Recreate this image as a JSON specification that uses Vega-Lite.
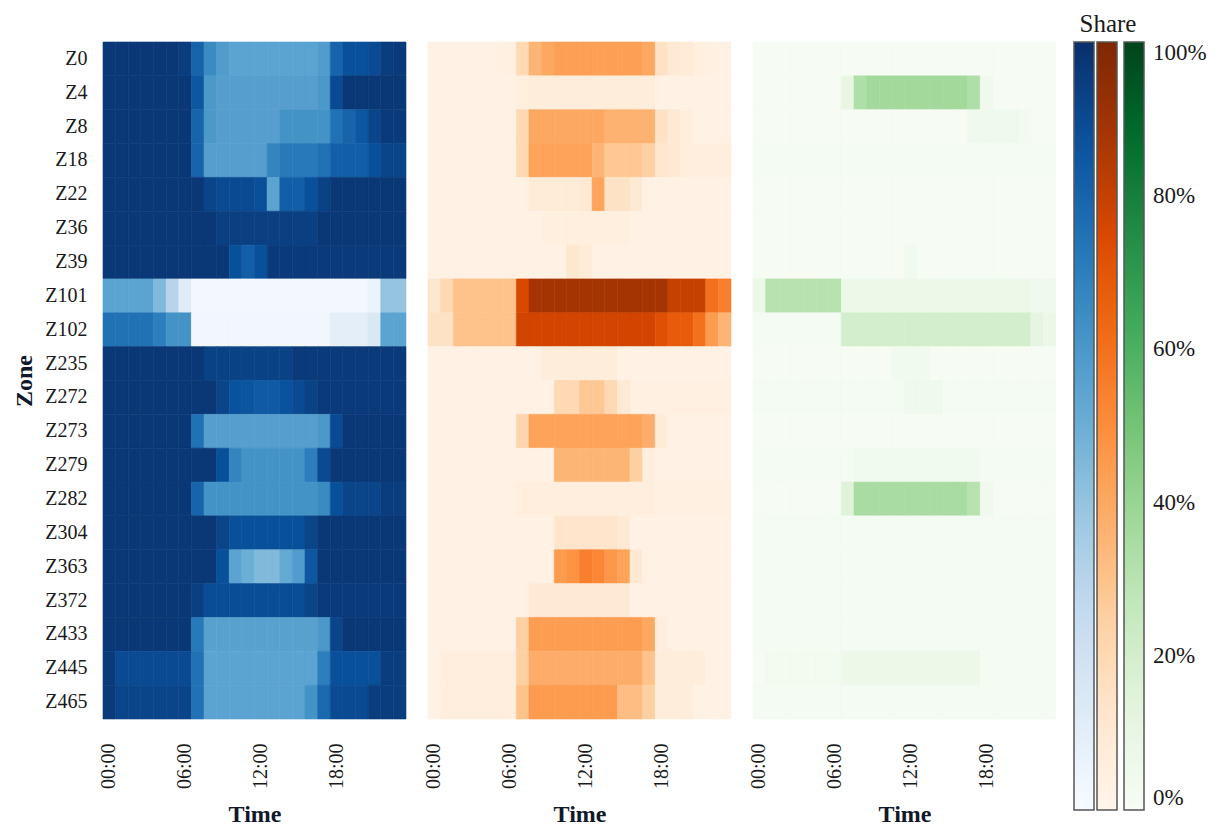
{
"$schema":"https://vega.github.io/schema/vega-lite/v6.json",
"background":"white",
"padding":{"left":12,"top":12,"right":5,"bottom":2},
"config":{"font":"Liberation Serif","view":{"stroke":null},
"axis":{"labelFont":"Liberation Serif","titleFont":"Liberation Serif","labelColor":"#1a1a1a","titleColor":"#10182b","domain":false,"ticks":false,"tickSize":0,"labelFontSize":20,"titleFontSize":24,"titleFontWeight":"bold"},
"legend":{"labelFont":"Liberation Serif","titleFont":"Liberation Serif"}},
"data":{"values":[
{"z":"Z0","h":0,"b":0.97,"o":0.03,"g":0.01},{"z":"Z0","h":1,"b":0.97,"o":0.03,"g":0.01},{"z":"Z0","h":2,"b":0.97,"o":0.03,"g":0.01},{"z":"Z0","h":3,"b":0.97,"o":0.03,"g":0.01},{"z":"Z0","h":4,"b":0.97,"o":0.03,"g":0.01},{"z":"Z0","h":5,"b":0.97,"o":0.03,"g":0.01},{"z":"Z0","h":6,"b":0.95,"o":0.04,"g":0.01},{"z":"Z0","h":7,"b":0.8,"o":0.2,"g":0.01},{"z":"Z0","h":8,"b":0.65,"o":0.35,"g":0.01},{"z":"Z0","h":9,"b":0.58,"o":0.4,"g":0.01},{"z":"Z0","h":10,"b":0.55,"o":0.43,"g":0.01},{"z":"Z0","h":11,"b":0.55,"o":0.43,"g":0.01},{"z":"Z0","h":12,"b":0.55,"o":0.43,"g":0.01},{"z":"Z0","h":13,"b":0.55,"o":0.43,"g":0.01},{"z":"Z0","h":14,"b":0.55,"o":0.43,"g":0.01},{"z":"Z0","h":15,"b":0.55,"o":0.43,"g":0.01},{"z":"Z0","h":16,"b":0.55,"o":0.43,"g":0.01},{"z":"Z0","h":17,"b":0.58,"o":0.4,"g":0.01},{"z":"Z0","h":18,"b":0.8,"o":0.15,"g":0.01},{"z":"Z0","h":19,"b":0.88,"o":0.1,"g":0.01},{"z":"Z0","h":20,"b":0.88,"o":0.08,"g":0.01},{"z":"Z0","h":21,"b":0.9,"o":0.05,"g":0.01},{"z":"Z0","h":22,"b":0.95,"o":0.04,"g":0.01},{"z":"Z0","h":23,"b":0.96,"o":0.03,"g":0.01},
{"z":"Z4","h":0,"b":0.97,"o":0.03,"g":0.01},{"z":"Z4","h":1,"b":0.97,"o":0.03,"g":0.01},{"z":"Z4","h":2,"b":0.97,"o":0.03,"g":0.01},{"z":"Z4","h":3,"b":0.97,"o":0.03,"g":0.01},{"z":"Z4","h":4,"b":0.97,"o":0.03,"g":0.01},{"z":"Z4","h":5,"b":0.97,"o":0.03,"g":0.01},{"z":"Z4","h":6,"b":0.97,"o":0.03,"g":0.01},{"z":"Z4","h":7,"b":0.85,"o":0.05,"g":0.1},{"z":"Z4","h":8,"b":0.6,"o":0.07,"g":0.33},{"z":"Z4","h":9,"b":0.57,"o":0.07,"g":0.37},{"z":"Z4","h":10,"b":0.57,"o":0.07,"g":0.37},{"z":"Z4","h":11,"b":0.57,"o":0.07,"g":0.37},{"z":"Z4","h":12,"b":0.57,"o":0.07,"g":0.37},{"z":"Z4","h":13,"b":0.57,"o":0.07,"g":0.37},{"z":"Z4","h":14,"b":0.57,"o":0.07,"g":0.37},{"z":"Z4","h":15,"b":0.57,"o":0.07,"g":0.37},{"z":"Z4","h":16,"b":0.57,"o":0.07,"g":0.37},{"z":"Z4","h":17,"b":0.6,"o":0.07,"g":0.33},{"z":"Z4","h":18,"b":0.9,"o":0.03,"g":0.05},{"z":"Z4","h":19,"b":0.97,"o":0.03,"g":0.01},{"z":"Z4","h":20,"b":0.97,"o":0.03,"g":0.01},{"z":"Z4","h":21,"b":0.97,"o":0.03,"g":0.01},{"z":"Z4","h":22,"b":0.97,"o":0.03,"g":0.01},{"z":"Z4","h":23,"b":0.97,"o":0.03,"g":0.01},
{"z":"Z8","h":0,"b":0.97,"o":0.03,"g":0.01},{"z":"Z8","h":1,"b":0.97,"o":0.03,"g":0.01},{"z":"Z8","h":2,"b":0.97,"o":0.03,"g":0.01},{"z":"Z8","h":3,"b":0.97,"o":0.03,"g":0.01},{"z":"Z8","h":4,"b":0.97,"o":0.03,"g":0.01},{"z":"Z8","h":5,"b":0.97,"o":0.03,"g":0.01},{"z":"Z8","h":6,"b":0.97,"o":0.03,"g":0.01},{"z":"Z8","h":7,"b":0.8,"o":0.2,"g":0.01},{"z":"Z8","h":8,"b":0.6,"o":0.4,"g":0.01},{"z":"Z8","h":9,"b":0.57,"o":0.4,"g":0.01},{"z":"Z8","h":10,"b":0.57,"o":0.4,"g":0.01},{"z":"Z8","h":11,"b":0.57,"o":0.4,"g":0.01},{"z":"Z8","h":12,"b":0.57,"o":0.4,"g":0.01},{"z":"Z8","h":13,"b":0.57,"o":0.4,"g":0.01},{"z":"Z8","h":14,"b":0.62,"o":0.36,"g":0.01},{"z":"Z8","h":15,"b":0.62,"o":0.36,"g":0.01},{"z":"Z8","h":16,"b":0.62,"o":0.36,"g":0.01},{"z":"Z8","h":17,"b":0.62,"o":0.36,"g":0.05},{"z":"Z8","h":18,"b":0.75,"o":0.15,"g":0.05},{"z":"Z8","h":19,"b":0.8,"o":0.1,"g":0.05},{"z":"Z8","h":20,"b":0.85,"o":0.06,"g":0.05},{"z":"Z8","h":21,"b":0.92,"o":0.03,"g":0.03},{"z":"Z8","h":22,"b":0.96,"o":0.03,"g":0.01},{"z":"Z8","h":23,"b":0.96,"o":0.03,"g":0.01},
{"z":"Z18","h":0,"b":0.97,"o":0.03,"g":0.02},{"z":"Z18","h":1,"b":0.97,"o":0.03,"g":0.02},{"z":"Z18","h":2,"b":0.97,"o":0.03,"g":0.02},{"z":"Z18","h":3,"b":0.97,"o":0.03,"g":0.02},{"z":"Z18","h":4,"b":0.97,"o":0.03,"g":0.02},{"z":"Z18","h":5,"b":0.97,"o":0.03,"g":0.02},{"z":"Z18","h":6,"b":0.97,"o":0.03,"g":0.02},{"z":"Z18","h":7,"b":0.8,"o":0.2,"g":0.02},{"z":"Z18","h":8,"b":0.57,"o":0.42,"g":0.02},{"z":"Z18","h":9,"b":0.57,"o":0.42,"g":0.02},{"z":"Z18","h":10,"b":0.57,"o":0.42,"g":0.02},{"z":"Z18","h":11,"b":0.57,"o":0.42,"g":0.02},{"z":"Z18","h":12,"b":0.57,"o":0.42,"g":0.02},{"z":"Z18","h":13,"b":0.68,"o":0.35,"g":0.02},{"z":"Z18","h":14,"b":0.72,"o":0.28,"g":0.02},{"z":"Z18","h":15,"b":0.72,"o":0.28,"g":0.02},{"z":"Z18","h":16,"b":0.72,"o":0.28,"g":0.02},{"z":"Z18","h":17,"b":0.75,"o":0.25,"g":0.02},{"z":"Z18","h":18,"b":0.82,"o":0.12,"g":0.02},{"z":"Z18","h":19,"b":0.82,"o":0.1,"g":0.02},{"z":"Z18","h":20,"b":0.82,"o":0.06,"g":0.02},{"z":"Z18","h":21,"b":0.88,"o":0.06,"g":0.02},{"z":"Z18","h":22,"b":0.92,"o":0.06,"g":0.02},{"z":"Z18","h":23,"b":0.92,"o":0.06,"g":0.02},
{"z":"Z22","h":0,"b":0.97,"o":0.03,"g":0.01},{"z":"Z22","h":1,"b":0.97,"o":0.03,"g":0.01},{"z":"Z22","h":2,"b":0.97,"o":0.03,"g":0.01},{"z":"Z22","h":3,"b":0.97,"o":0.03,"g":0.01},{"z":"Z22","h":4,"b":0.97,"o":0.03,"g":0.01},{"z":"Z22","h":5,"b":0.97,"o":0.03,"g":0.01},{"z":"Z22","h":6,"b":0.97,"o":0.03,"g":0.01},{"z":"Z22","h":7,"b":0.97,"o":0.03,"g":0.01},{"z":"Z22","h":8,"b":0.92,"o":0.08,"g":0.01},{"z":"Z22","h":9,"b":0.9,"o":0.08,"g":0.01},{"z":"Z22","h":10,"b":0.9,"o":0.08,"g":0.01},{"z":"Z22","h":11,"b":0.9,"o":0.08,"g":0.01},{"z":"Z22","h":12,"b":0.88,"o":0.1,"g":0.01},{"z":"Z22","h":13,"b":0.55,"o":0.42,"g":0.01},{"z":"Z22","h":14,"b":0.82,"o":0.15,"g":0.01},{"z":"Z22","h":15,"b":0.82,"o":0.15,"g":0.01},{"z":"Z22","h":16,"b":0.88,"o":0.1,"g":0.01},{"z":"Z22","h":17,"b":0.93,"o":0.03,"g":0.01},{"z":"Z22","h":18,"b":0.97,"o":0.03,"g":0.01},{"z":"Z22","h":19,"b":0.97,"o":0.03,"g":0.01},{"z":"Z22","h":20,"b":0.97,"o":0.03,"g":0.01},{"z":"Z22","h":21,"b":0.97,"o":0.03,"g":0.01},{"z":"Z22","h":22,"b":0.97,"o":0.03,"g":0.01},{"z":"Z22","h":23,"b":0.97,"o":0.03,"g":0.01},
{"z":"Z36","h":0,"b":0.97,"o":0.03,"g":0.01},{"z":"Z36","h":1,"b":0.97,"o":0.03,"g":0.01},{"z":"Z36","h":2,"b":0.97,"o":0.03,"g":0.01},{"z":"Z36","h":3,"b":0.97,"o":0.03,"g":0.01},{"z":"Z36","h":4,"b":0.97,"o":0.03,"g":0.01},{"z":"Z36","h":5,"b":0.97,"o":0.03,"g":0.01},{"z":"Z36","h":6,"b":0.97,"o":0.03,"g":0.01},{"z":"Z36","h":7,"b":0.97,"o":0.03,"g":0.01},{"z":"Z36","h":8,"b":0.97,"o":0.03,"g":0.01},{"z":"Z36","h":9,"b":0.94,"o":0.05,"g":0.01},{"z":"Z36","h":10,"b":0.94,"o":0.05,"g":0.01},{"z":"Z36","h":11,"b":0.94,"o":0.05,"g":0.01},{"z":"Z36","h":12,"b":0.94,"o":0.05,"g":0.01},{"z":"Z36","h":13,"b":0.94,"o":0.05,"g":0.01},{"z":"Z36","h":14,"b":0.94,"o":0.05,"g":0.01},{"z":"Z36","h":15,"b":0.94,"o":0.05,"g":0.01},{"z":"Z36","h":16,"b":0.94,"o":0.03,"g":0.01},{"z":"Z36","h":17,"b":0.97,"o":0.03,"g":0.01},{"z":"Z36","h":18,"b":0.97,"o":0.03,"g":0.01},{"z":"Z36","h":19,"b":0.97,"o":0.03,"g":0.01},{"z":"Z36","h":20,"b":0.97,"o":0.03,"g":0.01},{"z":"Z36","h":21,"b":0.97,"o":0.03,"g":0.01},{"z":"Z36","h":22,"b":0.97,"o":0.03,"g":0.01},{"z":"Z36","h":23,"b":0.97,"o":0.03,"g":0.01},
{"z":"Z39","h":0,"b":0.97,"o":0.03,"g":0.01},{"z":"Z39","h":1,"b":0.97,"o":0.03,"g":0.01},{"z":"Z39","h":2,"b":0.97,"o":0.03,"g":0.01},{"z":"Z39","h":3,"b":0.97,"o":0.03,"g":0.01},{"z":"Z39","h":4,"b":0.97,"o":0.03,"g":0.01},{"z":"Z39","h":5,"b":0.97,"o":0.03,"g":0.01},{"z":"Z39","h":6,"b":0.97,"o":0.03,"g":0.01},{"z":"Z39","h":7,"b":0.97,"o":0.03,"g":0.01},{"z":"Z39","h":8,"b":0.97,"o":0.03,"g":0.01},{"z":"Z39","h":9,"b":0.97,"o":0.03,"g":0.01},{"z":"Z39","h":10,"b":0.88,"o":0.03,"g":0.01},{"z":"Z39","h":11,"b":0.82,"o":0.12,"g":0.01},{"z":"Z39","h":12,"b":0.88,"o":0.08,"g":0.04},{"z":"Z39","h":13,"b":0.96,"o":0.03,"g":0.01},{"z":"Z39","h":14,"b":0.96,"o":0.03,"g":0.01},{"z":"Z39","h":15,"b":0.96,"o":0.03,"g":0.01},{"z":"Z39","h":16,"b":0.96,"o":0.03,"g":0.01},{"z":"Z39","h":17,"b":0.96,"o":0.03,"g":0.01},{"z":"Z39","h":18,"b":0.96,"o":0.03,"g":0.01},{"z":"Z39","h":19,"b":0.96,"o":0.03,"g":0.01},{"z":"Z39","h":20,"b":0.96,"o":0.03,"g":0.01},{"z":"Z39","h":21,"b":0.96,"o":0.03,"g":0.01},{"z":"Z39","h":22,"b":0.96,"o":0.03,"g":0.01},{"z":"Z39","h":23,"b":0.96,"o":0.03,"g":0.01},
{"z":"Z101","h":0,"b":0.55,"o":0.12,"g":0.08},{"z":"Z101","h":1,"b":0.55,"o":0.2,"g":0.3},{"z":"Z101","h":2,"b":0.55,"o":0.3,"g":0.3},{"z":"Z101","h":3,"b":0.55,"o":0.3,"g":0.3},{"z":"Z101","h":4,"b":0.45,"o":0.3,"g":0.3},{"z":"Z101","h":5,"b":0.3,"o":0.3,"g":0.3},{"z":"Z101","h":6,"b":0.12,"o":0.3,"g":0.3},{"z":"Z101","h":7,"b":0.02,"o":0.75,"g":0.07},{"z":"Z101","h":8,"b":0.02,"o":0.88,"g":0.07},{"z":"Z101","h":9,"b":0.02,"o":0.88,"g":0.07},{"z":"Z101","h":10,"b":0.02,"o":0.88,"g":0.07},{"z":"Z101","h":11,"b":0.02,"o":0.88,"g":0.07},{"z":"Z101","h":12,"b":0.02,"o":0.88,"g":0.07},{"z":"Z101","h":13,"b":0.02,"o":0.88,"g":0.07},{"z":"Z101","h":14,"b":0.02,"o":0.88,"g":0.07},{"z":"Z101","h":15,"b":0.02,"o":0.88,"g":0.07},{"z":"Z101","h":16,"b":0.02,"o":0.88,"g":0.07},{"z":"Z101","h":17,"b":0.02,"o":0.88,"g":0.07},{"z":"Z101","h":18,"b":0.02,"o":0.88,"g":0.07},{"z":"Z101","h":19,"b":0.02,"o":0.8,"g":0.07},{"z":"Z101","h":20,"b":0.02,"o":0.8,"g":0.07},{"z":"Z101","h":21,"b":0.06,"o":0.8,"g":0.07},{"z":"Z101","h":22,"b":0.4,"o":0.6,"g":0.05},{"z":"Z101","h":23,"b":0.4,"o":0.55,"g":0.05},
{"z":"Z102","h":0,"b":0.75,"o":0.15,"g":0.02},{"z":"Z102","h":1,"b":0.75,"o":0.15,"g":0.02},{"z":"Z102","h":2,"b":0.75,"o":0.3,"g":0.02},{"z":"Z102","h":3,"b":0.75,"o":0.3,"g":0.02},{"z":"Z102","h":4,"b":0.7,"o":0.3,"g":0.02},{"z":"Z102","h":5,"b":0.62,"o":0.3,"g":0.02},{"z":"Z102","h":6,"b":0.62,"o":0.3,"g":0.02},{"z":"Z102","h":7,"b":0.03,"o":0.77,"g":0.2},{"z":"Z102","h":8,"b":0.03,"o":0.77,"g":0.2},{"z":"Z102","h":9,"b":0.03,"o":0.77,"g":0.2},{"z":"Z102","h":10,"b":0.03,"o":0.77,"g":0.2},{"z":"Z102","h":11,"b":0.03,"o":0.77,"g":0.2},{"z":"Z102","h":12,"b":0.03,"o":0.77,"g":0.2},{"z":"Z102","h":13,"b":0.03,"o":0.77,"g":0.2},{"z":"Z102","h":14,"b":0.03,"o":0.77,"g":0.2},{"z":"Z102","h":15,"b":0.03,"o":0.77,"g":0.2},{"z":"Z102","h":16,"b":0.03,"o":0.77,"g":0.2},{"z":"Z102","h":17,"b":0.03,"o":0.77,"g":0.2},{"z":"Z102","h":18,"b":0.1,"o":0.72,"g":0.2},{"z":"Z102","h":19,"b":0.1,"o":0.68,"g":0.2},{"z":"Z102","h":20,"b":0.1,"o":0.68,"g":0.2},{"z":"Z102","h":21,"b":0.15,"o":0.6,"g":0.2},{"z":"Z102","h":22,"b":0.55,"o":0.45,"g":0.12},{"z":"Z102","h":23,"b":0.55,"o":0.35,"g":0.08},
{"z":"Z235","h":0,"b":0.97,"o":0.03,"g":0.01},{"z":"Z235","h":1,"b":0.97,"o":0.03,"g":0.01},{"z":"Z235","h":2,"b":0.97,"o":0.03,"g":0.01},{"z":"Z235","h":3,"b":0.97,"o":0.03,"g":0.01},{"z":"Z235","h":4,"b":0.97,"o":0.03,"g":0.01},{"z":"Z235","h":5,"b":0.97,"o":0.03,"g":0.01},{"z":"Z235","h":6,"b":0.97,"o":0.03,"g":0.01},{"z":"Z235","h":7,"b":0.97,"o":0.03,"g":0.01},{"z":"Z235","h":8,"b":0.93,"o":0.03,"g":0.01},{"z":"Z235","h":9,"b":0.93,"o":0.07,"g":0.01},{"z":"Z235","h":10,"b":0.93,"o":0.07,"g":0.01},{"z":"Z235","h":11,"b":0.93,"o":0.07,"g":0.04},{"z":"Z235","h":12,"b":0.93,"o":0.07,"g":0.04},{"z":"Z235","h":13,"b":0.93,"o":0.07,"g":0.04},{"z":"Z235","h":14,"b":0.93,"o":0.07,"g":0.01},{"z":"Z235","h":15,"b":0.96,"o":0.03,"g":0.01},{"z":"Z235","h":16,"b":0.96,"o":0.03,"g":0.01},{"z":"Z235","h":17,"b":0.96,"o":0.03,"g":0.01},{"z":"Z235","h":18,"b":0.96,"o":0.03,"g":0.01},{"z":"Z235","h":19,"b":0.96,"o":0.03,"g":0.01},{"z":"Z235","h":20,"b":0.96,"o":0.03,"g":0.01},{"z":"Z235","h":21,"b":0.96,"o":0.03,"g":0.01},{"z":"Z235","h":22,"b":0.96,"o":0.03,"g":0.01},{"z":"Z235","h":23,"b":0.96,"o":0.03,"g":0.01},
{"z":"Z272","h":0,"b":0.97,"o":0.03,"g":0.02},{"z":"Z272","h":1,"b":0.97,"o":0.03,"g":0.02},{"z":"Z272","h":2,"b":0.97,"o":0.03,"g":0.02},{"z":"Z272","h":3,"b":0.97,"o":0.03,"g":0.02},{"z":"Z272","h":4,"b":0.97,"o":0.03,"g":0.02},{"z":"Z272","h":5,"b":0.97,"o":0.03,"g":0.02},{"z":"Z272","h":6,"b":0.97,"o":0.03,"g":0.02},{"z":"Z272","h":7,"b":0.97,"o":0.03,"g":0.02},{"z":"Z272","h":8,"b":0.97,"o":0.03,"g":0.02},{"z":"Z272","h":9,"b":0.92,"o":0.03,"g":0.02},{"z":"Z272","h":10,"b":0.87,"o":0.2,"g":0.02},{"z":"Z272","h":11,"b":0.86,"o":0.2,"g":0.02},{"z":"Z272","h":12,"b":0.84,"o":0.28,"g":0.05},{"z":"Z272","h":13,"b":0.84,"o":0.28,"g":0.05},{"z":"Z272","h":14,"b":0.87,"o":0.2,"g":0.05},{"z":"Z272","h":15,"b":0.9,"o":0.1,"g":0.02},{"z":"Z272","h":16,"b":0.93,"o":0.04,"g":0.02},{"z":"Z272","h":17,"b":0.96,"o":0.04,"g":0.02},{"z":"Z272","h":18,"b":0.96,"o":0.04,"g":0.02},{"z":"Z272","h":19,"b":0.96,"o":0.04,"g":0.02},{"z":"Z272","h":20,"b":0.96,"o":0.04,"g":0.02},{"z":"Z272","h":21,"b":0.96,"o":0.04,"g":0.02},{"z":"Z272","h":22,"b":0.96,"o":0.04,"g":0.02},{"z":"Z272","h":23,"b":0.96,"o":0.04,"g":0.02},
{"z":"Z273","h":0,"b":0.97,"o":0.03,"g":0.01},{"z":"Z273","h":1,"b":0.97,"o":0.03,"g":0.01},{"z":"Z273","h":2,"b":0.97,"o":0.03,"g":0.01},{"z":"Z273","h":3,"b":0.97,"o":0.03,"g":0.01},{"z":"Z273","h":4,"b":0.97,"o":0.03,"g":0.01},{"z":"Z273","h":5,"b":0.97,"o":0.03,"g":0.01},{"z":"Z273","h":6,"b":0.97,"o":0.03,"g":0.01},{"z":"Z273","h":7,"b":0.75,"o":0.22,"g":0.01},{"z":"Z273","h":8,"b":0.57,"o":0.42,"g":0.01},{"z":"Z273","h":9,"b":0.57,"o":0.42,"g":0.01},{"z":"Z273","h":10,"b":0.57,"o":0.42,"g":0.01},{"z":"Z273","h":11,"b":0.57,"o":0.42,"g":0.01},{"z":"Z273","h":12,"b":0.57,"o":0.42,"g":0.01},{"z":"Z273","h":13,"b":0.57,"o":0.42,"g":0.01},{"z":"Z273","h":14,"b":0.57,"o":0.42,"g":0.01},{"z":"Z273","h":15,"b":0.57,"o":0.42,"g":0.01},{"z":"Z273","h":16,"b":0.57,"o":0.42,"g":0.01},{"z":"Z273","h":17,"b":0.6,"o":0.38,"g":0.01},{"z":"Z273","h":18,"b":0.9,"o":0.08,"g":0.01},{"z":"Z273","h":19,"b":0.97,"o":0.03,"g":0.01},{"z":"Z273","h":20,"b":0.97,"o":0.03,"g":0.01},{"z":"Z273","h":21,"b":0.97,"o":0.03,"g":0.01},{"z":"Z273","h":22,"b":0.97,"o":0.03,"g":0.01},{"z":"Z273","h":23,"b":0.97,"o":0.03,"g":0.01},
{"z":"Z279","h":0,"b":0.97,"o":0.03,"g":0.02},{"z":"Z279","h":1,"b":0.97,"o":0.03,"g":0.02},{"z":"Z279","h":2,"b":0.97,"o":0.03,"g":0.02},{"z":"Z279","h":3,"b":0.97,"o":0.03,"g":0.02},{"z":"Z279","h":4,"b":0.97,"o":0.03,"g":0.02},{"z":"Z279","h":5,"b":0.97,"o":0.03,"g":0.02},{"z":"Z279","h":6,"b":0.97,"o":0.03,"g":0.02},{"z":"Z279","h":7,"b":0.97,"o":0.03,"g":0.02},{"z":"Z279","h":8,"b":0.97,"o":0.03,"g":0.04},{"z":"Z279","h":9,"b":0.88,"o":0.03,"g":0.04},{"z":"Z279","h":10,"b":0.68,"o":0.35,"g":0.04},{"z":"Z279","h":11,"b":0.62,"o":0.35,"g":0.04},{"z":"Z279","h":12,"b":0.62,"o":0.35,"g":0.04},{"z":"Z279","h":13,"b":0.62,"o":0.35,"g":0.04},{"z":"Z279","h":14,"b":0.62,"o":0.35,"g":0.04},{"z":"Z279","h":15,"b":0.62,"o":0.35,"g":0.04},{"z":"Z279","h":16,"b":0.7,"o":0.25,"g":0.04},{"z":"Z279","h":17,"b":0.9,"o":0.06,"g":0.04},{"z":"Z279","h":18,"b":0.97,"o":0.03,"g":0.02},{"z":"Z279","h":19,"b":0.97,"o":0.03,"g":0.02},{"z":"Z279","h":20,"b":0.97,"o":0.03,"g":0.02},{"z":"Z279","h":21,"b":0.97,"o":0.03,"g":0.02},{"z":"Z279","h":22,"b":0.97,"o":0.03,"g":0.02},{"z":"Z279","h":23,"b":0.97,"o":0.03,"g":0.02},
{"z":"Z282","h":0,"b":0.97,"o":0.03,"g":0.01},{"z":"Z282","h":1,"b":0.97,"o":0.03,"g":0.01},{"z":"Z282","h":2,"b":0.97,"o":0.03,"g":0.01},{"z":"Z282","h":3,"b":0.97,"o":0.03,"g":0.01},{"z":"Z282","h":4,"b":0.97,"o":0.03,"g":0.01},{"z":"Z282","h":5,"b":0.97,"o":0.03,"g":0.01},{"z":"Z282","h":6,"b":0.97,"o":0.03,"g":0.01},{"z":"Z282","h":7,"b":0.8,"o":0.06,"g":0.15},{"z":"Z282","h":8,"b":0.62,"o":0.06,"g":0.35},{"z":"Z282","h":9,"b":0.62,"o":0.06,"g":0.35},{"z":"Z282","h":10,"b":0.62,"o":0.06,"g":0.35},{"z":"Z282","h":11,"b":0.62,"o":0.06,"g":0.35},{"z":"Z282","h":12,"b":0.62,"o":0.06,"g":0.35},{"z":"Z282","h":13,"b":0.62,"o":0.06,"g":0.35},{"z":"Z282","h":14,"b":0.62,"o":0.06,"g":0.35},{"z":"Z282","h":15,"b":0.62,"o":0.06,"g":0.35},{"z":"Z282","h":16,"b":0.62,"o":0.06,"g":0.35},{"z":"Z282","h":17,"b":0.65,"o":0.06,"g":0.3},{"z":"Z282","h":18,"b":0.88,"o":0.04,"g":0.05},{"z":"Z282","h":19,"b":0.92,"o":0.04,"g":0.01},{"z":"Z282","h":20,"b":0.92,"o":0.04,"g":0.01},{"z":"Z282","h":21,"b":0.92,"o":0.04,"g":0.01},{"z":"Z282","h":22,"b":0.95,"o":0.04,"g":0.01},{"z":"Z282","h":23,"b":0.95,"o":0.04,"g":0.01},
{"z":"Z304","h":0,"b":0.97,"o":0.03,"g":0.02},{"z":"Z304","h":1,"b":0.97,"o":0.03,"g":0.02},{"z":"Z304","h":2,"b":0.97,"o":0.03,"g":0.02},{"z":"Z304","h":3,"b":0.97,"o":0.03,"g":0.02},{"z":"Z304","h":4,"b":0.97,"o":0.03,"g":0.02},{"z":"Z304","h":5,"b":0.97,"o":0.03,"g":0.02},{"z":"Z304","h":6,"b":0.97,"o":0.03,"g":0.02},{"z":"Z304","h":7,"b":0.97,"o":0.03,"g":0.02},{"z":"Z304","h":8,"b":0.97,"o":0.03,"g":0.02},{"z":"Z304","h":9,"b":0.92,"o":0.03,"g":0.02},{"z":"Z304","h":10,"b":0.88,"o":0.13,"g":0.02},{"z":"Z304","h":11,"b":0.88,"o":0.13,"g":0.02},{"z":"Z304","h":12,"b":0.88,"o":0.13,"g":0.02},{"z":"Z304","h":13,"b":0.88,"o":0.13,"g":0.02},{"z":"Z304","h":14,"b":0.88,"o":0.13,"g":0.02},{"z":"Z304","h":15,"b":0.88,"o":0.1,"g":0.02},{"z":"Z304","h":16,"b":0.92,"o":0.03,"g":0.02},{"z":"Z304","h":17,"b":0.97,"o":0.03,"g":0.02},{"z":"Z304","h":18,"b":0.97,"o":0.03,"g":0.02},{"z":"Z304","h":19,"b":0.97,"o":0.03,"g":0.02},{"z":"Z304","h":20,"b":0.97,"o":0.03,"g":0.02},{"z":"Z304","h":21,"b":0.97,"o":0.03,"g":0.02},{"z":"Z304","h":22,"b":0.97,"o":0.03,"g":0.02},{"z":"Z304","h":23,"b":0.97,"o":0.03,"g":0.02},
{"z":"Z363","h":0,"b":0.97,"o":0.03,"g":0.02},{"z":"Z363","h":1,"b":0.97,"o":0.03,"g":0.02},{"z":"Z363","h":2,"b":0.97,"o":0.03,"g":0.02},{"z":"Z363","h":3,"b":0.97,"o":0.03,"g":0.02},{"z":"Z363","h":4,"b":0.97,"o":0.03,"g":0.02},{"z":"Z363","h":5,"b":0.97,"o":0.03,"g":0.02},{"z":"Z363","h":6,"b":0.97,"o":0.03,"g":0.02},{"z":"Z363","h":7,"b":0.97,"o":0.03,"g":0.02},{"z":"Z363","h":8,"b":0.97,"o":0.03,"g":0.02},{"z":"Z363","h":9,"b":0.88,"o":0.03,"g":0.02},{"z":"Z363","h":10,"b":0.55,"o":0.45,"g":0.02},{"z":"Z363","h":11,"b":0.5,"o":0.48,"g":0.02},{"z":"Z363","h":12,"b":0.45,"o":0.55,"g":0.02},{"z":"Z363","h":13,"b":0.45,"o":0.52,"g":0.02},{"z":"Z363","h":14,"b":0.52,"o":0.46,"g":0.02},{"z":"Z363","h":15,"b":0.58,"o":0.42,"g":0.02},{"z":"Z363","h":16,"b":0.85,"o":0.1,"g":0.02},{"z":"Z363","h":17,"b":0.97,"o":0.03,"g":0.02},{"z":"Z363","h":18,"b":0.97,"o":0.03,"g":0.02},{"z":"Z363","h":19,"b":0.97,"o":0.03,"g":0.02},{"z":"Z363","h":20,"b":0.97,"o":0.03,"g":0.02},{"z":"Z363","h":21,"b":0.97,"o":0.03,"g":0.02},{"z":"Z363","h":22,"b":0.97,"o":0.03,"g":0.02},{"z":"Z363","h":23,"b":0.97,"o":0.03,"g":0.02},
{"z":"Z372","h":0,"b":0.97,"o":0.03,"g":0.02},{"z":"Z372","h":1,"b":0.97,"o":0.03,"g":0.02},{"z":"Z372","h":2,"b":0.97,"o":0.03,"g":0.02},{"z":"Z372","h":3,"b":0.97,"o":0.03,"g":0.02},{"z":"Z372","h":4,"b":0.97,"o":0.03,"g":0.02},{"z":"Z372","h":5,"b":0.97,"o":0.03,"g":0.02},{"z":"Z372","h":6,"b":0.97,"o":0.03,"g":0.02},{"z":"Z372","h":7,"b":0.94,"o":0.03,"g":0.02},{"z":"Z372","h":8,"b":0.89,"o":0.1,"g":0.02},{"z":"Z372","h":9,"b":0.89,"o":0.1,"g":0.02},{"z":"Z372","h":10,"b":0.89,"o":0.1,"g":0.02},{"z":"Z372","h":11,"b":0.89,"o":0.1,"g":0.02},{"z":"Z372","h":12,"b":0.89,"o":0.1,"g":0.02},{"z":"Z372","h":13,"b":0.89,"o":0.1,"g":0.02},{"z":"Z372","h":14,"b":0.89,"o":0.1,"g":0.02},{"z":"Z372","h":15,"b":0.89,"o":0.1,"g":0.02},{"z":"Z372","h":16,"b":0.92,"o":0.03,"g":0.02},{"z":"Z372","h":17,"b":0.96,"o":0.03,"g":0.02},{"z":"Z372","h":18,"b":0.96,"o":0.03,"g":0.02},{"z":"Z372","h":19,"b":0.96,"o":0.03,"g":0.02},{"z":"Z372","h":20,"b":0.96,"o":0.03,"g":0.02},{"z":"Z372","h":21,"b":0.96,"o":0.03,"g":0.02},{"z":"Z372","h":22,"b":0.96,"o":0.03,"g":0.02},{"z":"Z372","h":23,"b":0.96,"o":0.03,"g":0.02},
{"z":"Z433","h":0,"b":0.97,"o":0.03,"g":0.02},{"z":"Z433","h":1,"b":0.97,"o":0.03,"g":0.02},{"z":"Z433","h":2,"b":0.97,"o":0.03,"g":0.02},{"z":"Z433","h":3,"b":0.97,"o":0.03,"g":0.02},{"z":"Z433","h":4,"b":0.97,"o":0.03,"g":0.02},{"z":"Z433","h":5,"b":0.97,"o":0.03,"g":0.02},{"z":"Z433","h":6,"b":0.97,"o":0.03,"g":0.02},{"z":"Z433","h":7,"b":0.72,"o":0.25,"g":0.02},{"z":"Z433","h":8,"b":0.56,"o":0.44,"g":0.02},{"z":"Z433","h":9,"b":0.56,"o":0.44,"g":0.02},{"z":"Z433","h":10,"b":0.56,"o":0.44,"g":0.02},{"z":"Z433","h":11,"b":0.56,"o":0.44,"g":0.02},{"z":"Z433","h":12,"b":0.56,"o":0.44,"g":0.02},{"z":"Z433","h":13,"b":0.56,"o":0.44,"g":0.02},{"z":"Z433","h":14,"b":0.56,"o":0.44,"g":0.02},{"z":"Z433","h":15,"b":0.56,"o":0.44,"g":0.02},{"z":"Z433","h":16,"b":0.56,"o":0.44,"g":0.02},{"z":"Z433","h":17,"b":0.6,"o":0.4,"g":0.02},{"z":"Z433","h":18,"b":0.92,"o":0.06,"g":0.02},{"z":"Z433","h":19,"b":0.97,"o":0.03,"g":0.02},{"z":"Z433","h":20,"b":0.97,"o":0.03,"g":0.02},{"z":"Z433","h":21,"b":0.97,"o":0.03,"g":0.02},{"z":"Z433","h":22,"b":0.97,"o":0.03,"g":0.02},{"z":"Z433","h":23,"b":0.97,"o":0.03,"g":0.02},
{"z":"Z445","h":0,"b":0.96,"o":0.03,"g":0.01},{"z":"Z445","h":1,"b":0.9,"o":0.06,"g":0.03},{"z":"Z445","h":2,"b":0.9,"o":0.06,"g":0.03},{"z":"Z445","h":3,"b":0.9,"o":0.06,"g":0.03},{"z":"Z445","h":4,"b":0.9,"o":0.06,"g":0.03},{"z":"Z445","h":5,"b":0.9,"o":0.06,"g":0.03},{"z":"Z445","h":6,"b":0.9,"o":0.06,"g":0.03},{"z":"Z445","h":7,"b":0.75,"o":0.25,"g":0.07},{"z":"Z445","h":8,"b":0.55,"o":0.38,"g":0.07},{"z":"Z445","h":9,"b":0.55,"o":0.38,"g":0.07},{"z":"Z445","h":10,"b":0.55,"o":0.38,"g":0.07},{"z":"Z445","h":11,"b":0.55,"o":0.38,"g":0.07},{"z":"Z445","h":12,"b":0.55,"o":0.38,"g":0.07},{"z":"Z445","h":13,"b":0.55,"o":0.38,"g":0.07},{"z":"Z445","h":14,"b":0.55,"o":0.38,"g":0.07},{"z":"Z445","h":15,"b":0.55,"o":0.38,"g":0.07},{"z":"Z445","h":16,"b":0.55,"o":0.38,"g":0.07},{"z":"Z445","h":17,"b":0.7,"o":0.3,"g":0.07},{"z":"Z445","h":18,"b":0.88,"o":0.07,"g":0.02},{"z":"Z445","h":19,"b":0.88,"o":0.07,"g":0.02},{"z":"Z445","h":20,"b":0.88,"o":0.07,"g":0.02},{"z":"Z445","h":21,"b":0.88,"o":0.07,"g":0.02},{"z":"Z445","h":22,"b":0.95,"o":0.03,"g":0.02},{"z":"Z445","h":23,"b":0.95,"o":0.03,"g":0.02},
{"z":"Z465","h":0,"b":0.96,"o":0.03,"g":0.02},{"z":"Z465","h":1,"b":0.92,"o":0.06,"g":0.02},{"z":"Z465","h":2,"b":0.92,"o":0.06,"g":0.02},{"z":"Z465","h":3,"b":0.92,"o":0.06,"g":0.02},{"z":"Z465","h":4,"b":0.92,"o":0.06,"g":0.02},{"z":"Z465","h":5,"b":0.92,"o":0.06,"g":0.02},{"z":"Z465","h":6,"b":0.92,"o":0.06,"g":0.02},{"z":"Z465","h":7,"b":0.75,"o":0.3,"g":0.02},{"z":"Z465","h":8,"b":0.55,"o":0.45,"g":0.02},{"z":"Z465","h":9,"b":0.55,"o":0.45,"g":0.02},{"z":"Z465","h":10,"b":0.55,"o":0.45,"g":0.02},{"z":"Z465","h":11,"b":0.55,"o":0.45,"g":0.02},{"z":"Z465","h":12,"b":0.55,"o":0.45,"g":0.02},{"z":"Z465","h":13,"b":0.55,"o":0.45,"g":0.02},{"z":"Z465","h":14,"b":0.55,"o":0.45,"g":0.02},{"z":"Z465","h":15,"b":0.55,"o":0.32,"g":0.02},{"z":"Z465","h":16,"b":0.62,"o":0.32,"g":0.02},{"z":"Z465","h":17,"b":0.78,"o":0.25,"g":0.02},{"z":"Z465","h":18,"b":0.9,"o":0.07,"g":0.02},{"z":"Z465","h":19,"b":0.9,"o":0.07,"g":0.02},{"z":"Z465","h":20,"b":0.9,"o":0.07,"g":0.02},{"z":"Z465","h":21,"b":0.95,"o":0.03,"g":0.02},{"z":"Z465","h":22,"b":0.95,"o":0.03,"g":0.02},{"z":"Z465","h":23,"b":0.95,"o":0.03,"g":0.02}
]},
"spacing":16,
"hconcat":[
{"width":303,"height":677,"mark":{"type":"rect","strokeWidth":0.6},
"encoding":{
"y":{"field":"z","type":"ordinal","sort":null,"axis":{"title":"Zone","labelPadding":16,"titlePadding":8}},
"x":{"field":"h","type":"ordinal","axis":{"title":"Time","values":[0,6,12,18],"labelExpr":"(datum.value < 10 ? '0' : '') + datum.value + ':00'","labelAngle":270,"labelPadding":24,"titlePadding":14}},
"color":{"field":"b","type":"quantitative","scale":{"domain":[0,0.125,0.25,0.375,0.5,0.625,0.75,0.875,1],"range":["#f7fbff","#deebf7","#c6dbef","#9ecae1","#6baed6","#4292c6","#2171b5","#08519c","#08306b"]},"legend":null},
"stroke":{"field":"b","type":"quantitative","scale":{"domain":[0,0.125,0.25,0.375,0.5,0.625,0.75,0.875,1],"range":["#f7fbff","#deebf7","#c6dbef","#9ecae1","#6baed6","#4292c6","#2171b5","#08519c","#08306b"]},"legend":null}}},
{"width":303,"height":677,"mark":{"type":"rect","strokeWidth":0.6},
"encoding":{
"y":{"field":"z","type":"ordinal","sort":null,"axis":null},
"x":{"field":"h","type":"ordinal","axis":{"title":"Time","values":[0,6,12,18],"labelExpr":"(datum.value < 10 ? '0' : '') + datum.value + ':00'","labelAngle":270,"labelPadding":24,"titlePadding":14}},
"color":{"field":"o","type":"quantitative","scale":{"domain":[0,0.125,0.25,0.375,0.5,0.625,0.75,0.875,1],"range":["#fff5eb","#fee6ce","#fdd0a2","#fdae6b","#fd8d3c","#f16913","#d94801","#a63603","#7f2704"]},"legend":null},
"stroke":{"field":"o","type":"quantitative","scale":{"domain":[0,0.125,0.25,0.375,0.5,0.625,0.75,0.875,1],"range":["#fff5eb","#fee6ce","#fdd0a2","#fdae6b","#fd8d3c","#f16913","#d94801","#a63603","#7f2704"]},"legend":null}}},
{"width":303,"height":677,
"encoding":{
"y":{"field":"z","type":"ordinal","sort":null,"axis":null},
"x":{"field":"h","type":"ordinal","axis":{"title":"Time","values":[0,6,12,18],"labelExpr":"(datum.value < 10 ? '0' : '') + datum.value + ':00'","labelAngle":270,"labelPadding":24,"titlePadding":14}}},
"layer":[
{"mark":{"type":"rect","fillOpacity":0},
"encoding":{"color":{"field":"b","type":"quantitative","scale":{"domain":[0,0.125,0.25,0.375,0.5,0.625,0.75,0.875,1],"range":["#f7fbff","#deebf7","#c6dbef","#9ecae1","#6baed6","#4292c6","#2171b5","#08519c","#08306b"]},
"legend":{"orient":"none","legendX":321,"legendY":0,"direction":"vertical","gradientLength":768,"gradientThickness":20,"title":null,"values":[0,0.2,0.4,0.6,0.8,1],"labelExpr":"''","gradientStrokeColor":"#555","gradientStrokeWidth":1.5}}}},
{"mark":{"type":"rect","fillOpacity":0},
"encoding":{"color":{"field":"o","type":"quantitative","scale":{"domain":[0,0.125,0.25,0.375,0.5,0.625,0.75,0.875,1],"range":["#fff5eb","#fee6ce","#fdd0a2","#fdae6b","#fd8d3c","#f16913","#d94801","#a63603","#7f2704"]},
"legend":{"orient":"none","legendX":327,"legendY":-30,"direction":"vertical","gradientLength":768,"gradientThickness":20,"title":"Share","titleFontSize":25,"titleFontWeight":"normal","titleColor":"#1a1a1a","titlePadding":5,"titleAnchor":"middle","values":[0,0.2,0.4,0.6,0.8,1],"labelExpr":"''","gradientStrokeColor":"#555","gradientStrokeWidth":1.5}}}},
{"mark":{"type":"rect","strokeWidth":0.6},
"encoding":{"color":{"field":"g","type":"quantitative","scale":{"domain":[0,0.125,0.25,0.375,0.5,0.625,0.75,0.875,1],"range":["#f7fcf5","#e5f5e0","#c7e9c0","#a1d99b","#74c476","#41ab5d","#238b45","#006d2c","#00441b"]},
"legend":{"orient":"none","legendX":371,"legendY":0,"direction":"vertical","gradientLength":768,"gradientThickness":20,"title":null,"values":[0,0.2,0.4,0.6,0.8,1],"format":".0%","labelFontSize":23,"labelColor":"#1a1a1a","labelOffset":9,"gradientStrokeColor":"#555","gradientStrokeWidth":1.5}},
"stroke":{"field":"g","type":"quantitative","scale":{"domain":[0,0.125,0.25,0.375,0.5,0.625,0.75,0.875,1],"range":["#f7fcf5","#e5f5e0","#c7e9c0","#a1d99b","#74c476","#41ab5d","#238b45","#006d2c","#00441b"]},"legend":null}}}
],
"resolve":{"scale":{"color":"independent"},"legend":{"color":"independent"}}}
],
"resolve":{"scale":{"color":"independent","stroke":"independent"},"legend":{"color":"independent","stroke":"independent"}}
}
